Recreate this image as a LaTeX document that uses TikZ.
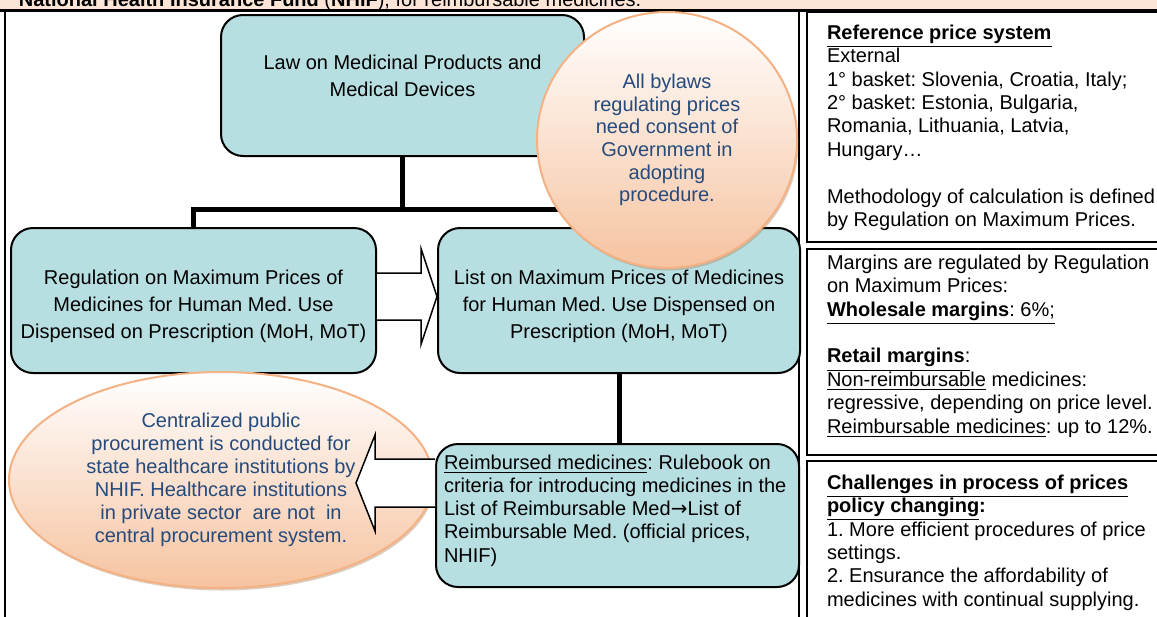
\documentclass[tikz,border=0pt]{standalone}
\usepackage{fontspec}
\setmainfont{Liberation Sans}
\newfontfamily\arrowfont{DejaVu Sans}
\usepackage{tikz}
\usetikzlibrary{calc,positioning,shapes.geometric,shadows}
\definecolor{boxteal}{HTML}{B7DEE1}
\definecolor{stripfill}{HTML}{FCE4D6}
\definecolor{bubbleline}{HTML}{F4B183}
\definecolor{bubblefill}{HTML}{F6C3A0}
\definecolor{bubbletext}{HTML}{254A7C}
\newcommand{\boxpar}[3]{\parbox[c][#1][t]{#2}{#3}}
\newcommand{\firstbase}[1]{\rule{0pt}{#1}}
\frenchspacing
\tikzset{
	price diagram/.style={
		x=0.5pt, y=-0.5pt,
		font=\fontsize{10}{13.5}\selectfont,
		conn/.style={line width=2.5pt, line join=miter},
		fat arrow/.style={draw, fill=white, line width=.75pt, line join=miter},
		frame/.style={line width=1pt}
		},
	bx/.style={draw, fill=boxteal, line width=1pt, rounded corners=11pt,
		inner sep=0pt, anchor=north west},
	bubble/.style={ellipse, draw=bubbleline, line width=1pt,
		top color=white, bottom color=bubblefill, inner sep=0pt,
		text=bubbletext, align=center,
		drop shadow={shadow xshift=.75pt, shadow yshift=-1.25pt, fill=brown!60!gray, opacity=.4}},
	cell/.style={draw, line width=1pt, anchor=north west, inner xsep=10pt, inner ysep=0pt,
		font=\fontsize{10}{11.7}\selectfont}
}

\begin{document}
\begin{tikzpicture}[price diagram]
	\useasboundingbox (0,0) rectangle (1157,616);
	\clip (0,0) rectangle (1157,616);
	% header strip, cut at the top
	\fill[stripfill] (0,0) rectangle (1157,10);
	\node[anchor=base west, inner sep=0pt] (hdr) at (18.5,6)
		{\textbf{National Health Insurance Fund} (\textbf{NHIF}), for reimbursable medicines.};
	\draw[line width=1.5pt] (0,10.5) -- (1157,10.5);
	\draw[frame] (5,10.5) -- (5,620);
	\draw[frame] (799,10.5) -- (799,620);

	\node[bx] (law) at (220,14) {\boxpar{70.5pt}{181.5pt}{\centering\firstbase{27pt}%
		Law on Medicinal Products and\\Medical Devices}};
	\node[bx] (reg) at (10,227) {\boxpar{72.5pt}{182.5pt}{\centering\firstbase{28pt}%
		Regulation on Maximum Prices of\\Medicines for Human Med. Use\\Dispensed on Prescription (MoH, MoT)}};
	\node[bx, right=30pt of reg] (list) {\boxpar{72.5pt}{181pt}{\centering\firstbase{28pt}%
		List on Maximum Prices of Medicines\\for Human Med. Use Dispensed on\\Prescription (MoH, MoT)}};
	\node[bx, inner xsep=4pt, font=\fontsize{10}{11.65}\selectfont] (reimb) at (435,443)
		{\boxpar{71.5pt}{173.5pt}{\raggedright\firstbase{12.5pt}%
		\underline{Reimbursed medicines}: Rulebook on\\
		criteria for introducing medicines in the\\
		List of Reimbursable Med{\arrowfont →}List of\\
		Reimbursable Med. (official prices,\\
		NHIF)}};

	\coordinate (bus) at ($(law.south)+(0,52)$);
	\draw[conn] (law.south) -- (bus);
	\draw[conn] (reg.north) |- (bus) -| (list.north);
	\draw[conn] (list.south) -- (list.south |- reimb.north);

	\node[bubble, minimum width=130pt, minimum height=128pt,
		font=\fontsize{10}{11.35}\selectfont] (consent) at (667,140)
		{All bylaws\\regulating prices\\need consent of\\Government in\\adopting\\procedure.};
	\node[bubble, minimum width=212pt, minimum height=108pt,
		font=\fontsize{10}{11.5}\selectfont] (procure) at (221,480)
		{Centralized public\\procurement is conducted for\\state healthcare institutions by\\
		NHIF. Healthcare institutions\\in private sector~ are not~ in\\central procurement system.};

	\coordinate (a1) at ($(reg.east)+(0,-4)$);
	\draw[fat arrow] ($(a1)+(0,-23.5)$) -- ($(a1 -| list.west)+(-16,-23.5)$)
		-- ($(a1 -| list.west)+(-16,-48)$) -- (a1 -| list.west)
		-- ($(a1 -| list.west)+(-16,48)$) -- ($(a1 -| list.west)+(-16,23.5)$) -- ($(a1)+(0,23.5)$);
	\coordinate (a2) at ($(reimb.west)+(0,-32.5)$);
	\coordinate (a2tip) at ($(a2)+(-79,0)$);
	\draw[fat arrow] ($(a2)+(0,-24)$) -- ($(a2)+(-60,-24)$) -- ($(a2)+(-60,-48)$) -- (a2tip)
		-- ($(a2)+(-60,48)$) -- ($(a2)+(-60,24)$) -- ($(a2)+(0,24)$);

	% right-hand table
	\node[cell] (refprice) at (806,11) {\boxpar{115pt}{200pt}{\raggedright\firstbase{13.65pt}%
		\underline{\textbf{Reference price system}}\\
		External\\
		1° basket: Slovenia, Croatia, Italy;\\
		2° basket: Estonia, Bulgaria,\\
		Romania, Lithuania, Latvia,\\
		Hungary…\\[11.7pt]
		Methodology of calculation is defined\\
		by Regulation on Maximum Prices.}};
	\node[cell] (margins) at (806,247.5) {\boxpar{103.25pt}{200pt}{\raggedright\firstbase{10.4pt}%
		Margins are regulated by Regulation\\
		on Maximum Prices:\\
		\underline{\textbf{Wholesale margins}: 6\%;}\\[11.7pt]
		\underline{\textbf{Retail margins}:}\\
		\underline{Non-reimbursable} medicines:\\
		regressive, depending on price level.\\
		\underline{Reimbursable medicines}: up to 12\%.}};
	\node[cell] (challenges) at (806,460) {\boxpar{82.5pt}{200pt}{\raggedright\firstbase{14.15pt}%
		\underline{\textbf{Challenges in process of prices}}\\
		\underline{\textbf{policy changing}}\textbf{:}\\
		1. More efficient procedures of price\\
		settings.\\
		2. Ensurance the affordability of\\
		medicines with continual supplying.}};
\end{tikzpicture}
\end{document}
